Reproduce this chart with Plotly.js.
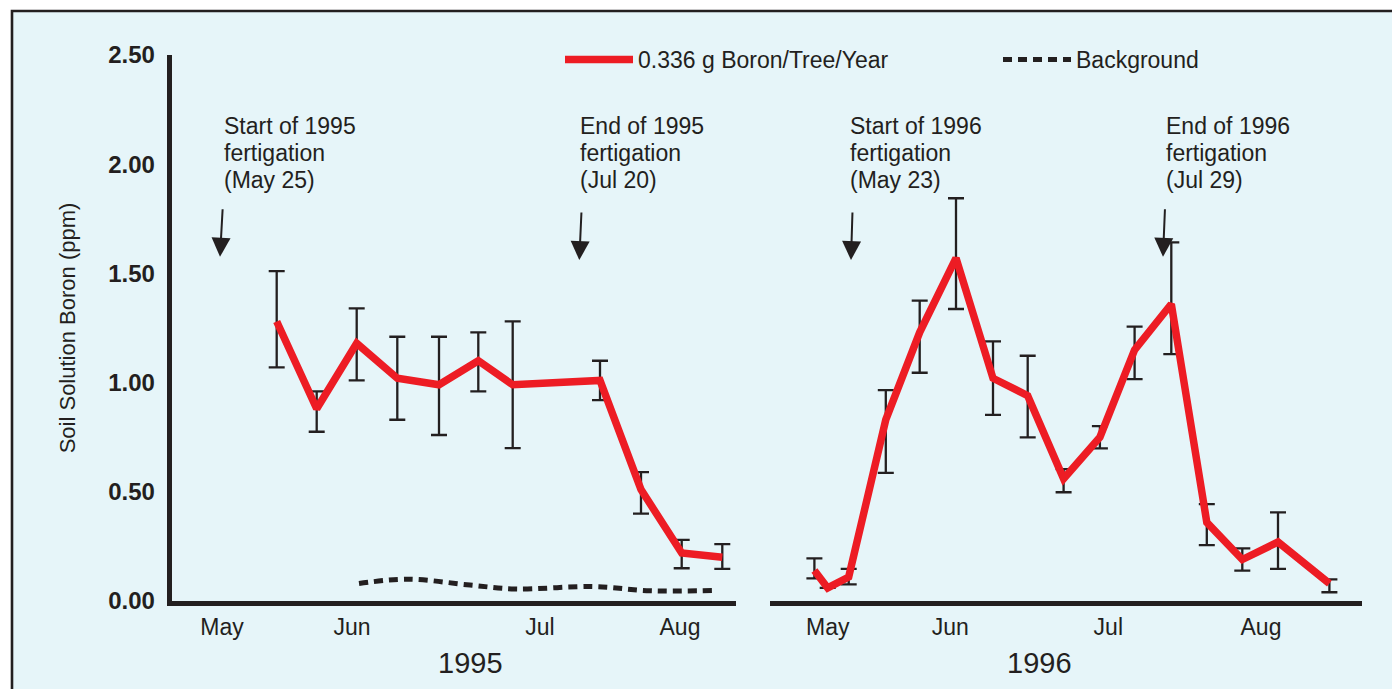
<!DOCTYPE html>
<html><head><meta charset="utf-8">
<script src="https://cdn.plot.ly/plotly-3.0.1.min.js"></script>
<style>html,body{margin:0;padding:0;background:#fff}#chart{width:1392px;height:689px}</style>
</head><body><div id="chart"></div>
<script>
const W = 1392, H = 689;
// sampling positions along each season's time axis (axis units)
const pos1995 = [276.7, 316.7, 356.7, 397.3, 439, 478.3, 512.7, 600, 641, 681.7, 722.3];
const boron1995 = [1.28, 0.88, 1.18, 1.02, 0.99, 1.10, 0.99, 1.01, 0.51, 0.22, 0.20];
const upper1995 = [1.51, 0.96, 1.34, 1.21, 1.21, 1.23, 1.28, 1.10, 0.59, 0.28, 0.26];
const lower1995 = [1.07, 0.775, 1.01, 0.83, 0.76, 0.96, 0.70, 0.92, 0.40, 0.15, 0.147];
const bgPos1995 = [359, 408, 470, 515, 593, 650, 715];
const bg1995 = [0.080, 0.100, 0.073, 0.055, 0.066, 0.047, 0.048];

const pos1996 = [814.4, 827.7, 848.7, 885.8, 919.7, 956, 993, 1027.7, 1063.6, 1099.9, 1134.6, 1171.3, 1206.8, 1242.3, 1278, 1329.4];
const boron1996 = [0.14, 0.06, 0.11, 0.83, 1.23, 1.57, 1.02, 0.94, 0.56, 0.75, 1.15, 1.36, 0.36, 0.19, 0.27, 0.08];
const upper1996 = [0.195, null, 0.147, 0.966, 1.375, 1.844, 1.189, 1.123, 0.604, 0.801, 1.256, 1.642, 0.444, 0.241, 0.406, 0.099];
const lower1996 = [0.104, null, 0.076, 0.587, 1.045, 1.337, 0.852, 0.749, 0.498, 0.699, 1.016, 1.130, 0.256, 0.139, 0.147, 0.040];

const monthLabels = ['May', 'Jun', 'Jul', 'Aug'];
const monthPos1995 = [222, 352, 540, 680];
const monthPos1996 = [827.7, 950.3, 1108.3, 1261];
const yearLabels = ['1995', '1996'];

const seriesName = '0.336 g Boron/Tree/Year';
const bgName = 'Background';

const fertNotes = [
  {lines: ['Start of 1995', 'fertigation', '(May 25)'], textX: 222, axis: 'x', tipX: 220, tipY: 1.576, dx: 2.7},
  {lines: ['End of 1995', 'fertigation', '(Jul 20)'], textX: 578, axis: 'x', tipX: 579.3, tipY: 1.561, dx: 2.2},
  {lines: ['Start of 1996', 'fertigation', '(May 23)'], textX: 848, axis: 'x2', tipX: 851, tipY: 1.561, dx: 1.5},
  {lines: ['End of 1996', 'fertigation', '(Jul 29)'], textX: 1164, axis: 'x2', tipX: 1163, tipY: 1.576, dx: 2}
];

const RED = '#ED1C24', INK = '#231F20', FONT = 'Liberation Sans, Arial, sans-serif';
const px = v => v / W, py = v => 1 - v / H;
const plus = (u, v) => u.map((t, i) => t == null ? null : +(t - v[i]).toFixed(4));
const minus = (l, v) => l.map((t, i) => t == null ? null : +(v[i] - t).toFixed(4));

const errStyle = {type: 'data', visible: true, color: INK, thickness: 2.3, width: 8};

const traces = [
  {x: pos1995, y: boron1995, xaxis: 'x', yaxis: 'y', mode: 'lines', name: seriesName, legendgroup: 'b',
   line: {color: RED, width: 7.5},
   error_y: Object.assign({array: plus(upper1995, boron1995), arrayminus: minus(lower1995, boron1995), symmetric: false}, errStyle)},
  {x: bgPos1995, y: bg1995, xaxis: 'x', yaxis: 'y', mode: 'lines', name: bgName, legendgroup: 'g',
   line: {color: INK, width: 5, dash: '9px,6px', shape: 'spline'}},
  {x: pos1996, y: boron1996, xaxis: 'x2', yaxis: 'y', mode: 'lines', name: seriesName, legendgroup: 'b', showlegend: false,
   line: {color: RED, width: 7.5},
   error_y: Object.assign({array: plus(upper1996, boron1996), arrayminus: minus(lower1996, boron1996), symmetric: false}, errStyle)}
];

const annotations = [];
fertNotes.forEach(n => {
  const lineY = [125.5, 153, 180];
  n.lines.forEach((t, i) => annotations.push({
    text: t, xref: 'paper', yref: 'paper', x: px(n.textX), y: py(lineY[i]),
    xanchor: 'left', yanchor: 'middle', showarrow: false,
    font: {family: FONT, size: 23, color: INK}
  }));
  annotations.push({
    text: '', xref: n.axis, yref: 'y', x: n.tipX, y: n.tipY,
    showarrow: true, arrowhead: 2, arrowsize: 1.9, arrowwidth: 2, arrowcolor: INK,
    ax: n.dx, ay: -49, axref: 'pixel', ayref: 'pixel'
  });
});
annotations.push({text: yearLabels[0], xref: 'paper', yref: 'paper', x: px(470.7), y: py(663),
  xanchor: 'center', yanchor: 'middle', showarrow: false, font: {family: FONT, size: 29, color: INK}});
annotations.push({text: yearLabels[1], xref: 'paper', yref: 'paper', x: px(1039), y: py(663),
  xanchor: 'center', yanchor: 'middle', showarrow: false, font: {family: FONT, size: 29, color: INK}});

const xCommon = {
  showgrid: false, zeroline: false, showline: true, linecolor: INK, linewidth: 5,
  ticks: 'outside', ticklen: 1, tickcolor: 'rgba(0,0,0,0)', tickmode: 'array', ticktext: monthLabels,
  tickfont: {family: FONT, size: 23, color: INK}, anchor: 'y', fixedrange: true
};

const layout = {
  width: W, height: H, margin: {l: 0, r: 0, t: 0, b: 0, autoexpand: false},
  paper_bgcolor: '#ffffff', plot_bgcolor: 'rgba(0,0,0,0)',
  font: {family: FONT, color: INK},
  showlegend: true,
  legend: {orientation: 'h', x: px(560), y: py(38), xanchor: 'left', yanchor: 'top',
    bgcolor: 'rgba(0,0,0,0)', font: {family: FONT, size: 23, color: INK}, itemwidth: 68, entrywidth: 355, entrywidthmode: 'pixels'},
  xaxis: Object.assign({}, xCommon, {domain: [px(171.7), px(736)], range: [171.7, 736], tickvals: monthPos1995}),
  xaxis2: Object.assign({}, xCommon, {domain: [px(770), px(1361.6)], range: [770, 1361.6], tickvals: monthPos1996}),
  yaxis: {
    domain: [py(601), py(55)], range: [0, 2.5], anchor: 'x', side: 'left',
    showgrid: false, zeroline: false, showline: true, linecolor: INK, linewidth: 5,
    ticks: 'outside', ticklen: 7, tickcolor: 'rgba(0,0,0,0)', tickmode: 'linear', tick0: 0, dtick: 0.5, tickformat: '.2f',
    tickfont: {family: FONT, size: 24, color: INK, weight: 'bold'},
    title: {text: 'Soil Solution Boron (ppm)', font: {family: FONT, size: 22, color: INK}, standoff: 28},
    fixedrange: true
  },
  shapes: [{type: 'rect', xref: 'paper', yref: 'paper', x0: px(12), x1: 1.05, y0: -0.05, y1: py(11),
    fillcolor: '#E6F5F9', line: {color: INK, width: 2.6}, layer: 'below'}],
  annotations: annotations
};

Plotly.newPlot('chart', traces, layout, {displayModeBar: false, staticPlot: true});
</script>
</body></html>
